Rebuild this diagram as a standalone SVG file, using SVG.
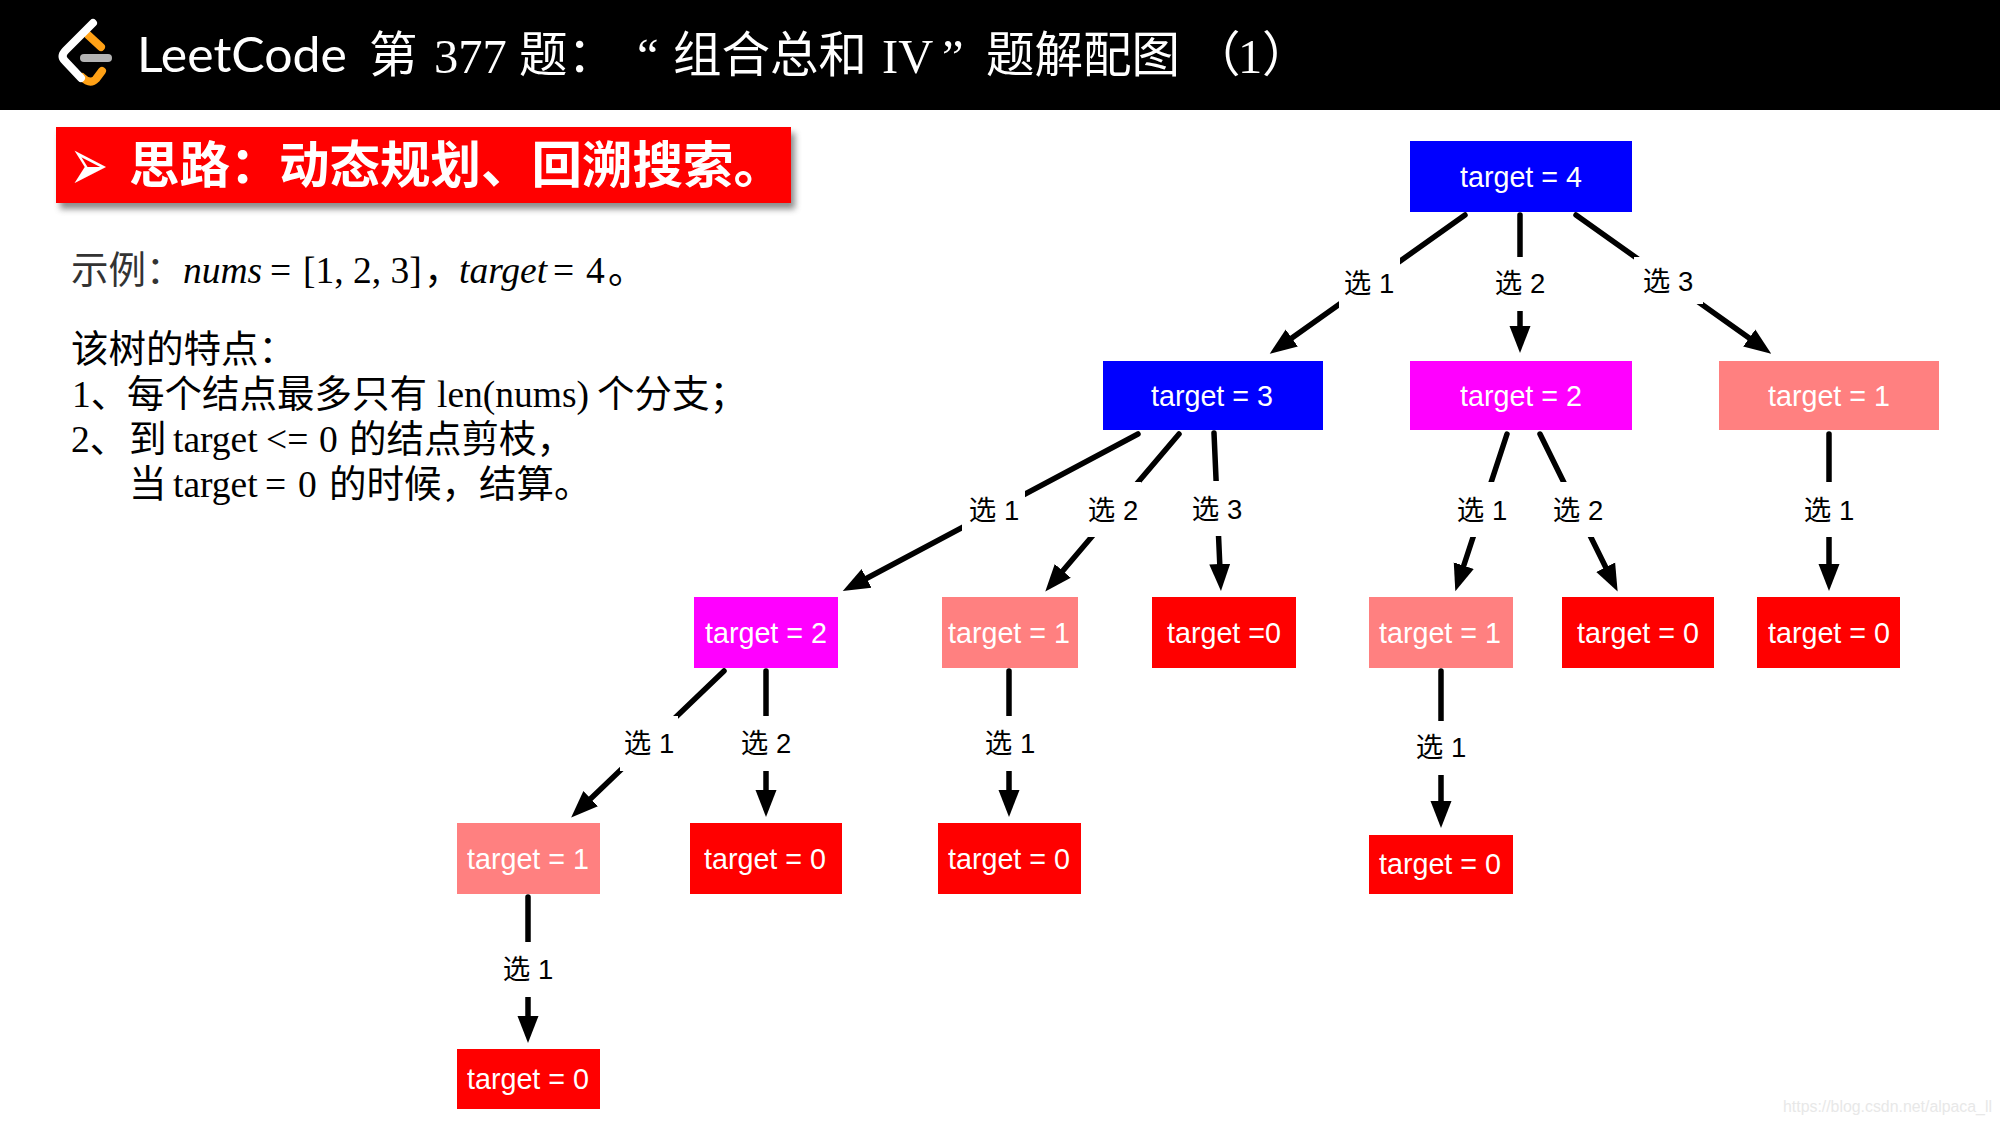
<svg xmlns="http://www.w3.org/2000/svg" width="2000" height="1125" viewBox="0 0 2000 1125">
<style>
.cjk{font-family:"Liberation Serif","Noto Sans CJK SC",serif}
.it{font-style:italic}
.body{font-size:37.5px;fill:#000}
.n rect{stroke:none}
.n text{font-family:"Liberation Sans","Noto Sans CJK SC",sans-serif;font-size:28.7px;fill:#fff;text-anchor:middle}
.blue{fill:#0000ff}.mag{fill:#ff00ff}.pink{fill:#ff8080}.red{fill:#ff0000}
.c{stroke:#000;stroke-width:5.5;stroke-linecap:round;fill:none;marker-end:url(#ah)}
.m{fill:#fff}
.l{font-family:"Liberation Sans","Noto Sans CJK SC",sans-serif;font-size:27.5px;fill:#000;text-anchor:middle}
</style>
<defs>
<marker id="ah" markerUnits="userSpaceOnUse" markerWidth="30" markerHeight="24" refX="12" refY="12" orient="auto" viewBox="0 0 30 24"><path d="M0,1.5 L27,12 L0,22.5z" fill="#000"/></marker>
<filter id="sh" x="-5%" y="-20%" width="110%" height="150%"><feGaussianBlur stdDeviation="3"/></filter>
</defs>
<rect width="2000" height="1125" fill="#fff"/>
<rect id="header" width="2000" height="110" fill="#000"/>
<g id="logo" fill="none" stroke-linecap="round">
<path d="M88,35 L101,47" stroke="#ffa116" stroke-width="8"/>
<path d="M82,77 Q90,85 96,79 L102,71" stroke="#ffa116" stroke-width="8"/>
<path d="M84,58 H108" stroke="#b3b3b3" stroke-width="8"/>
<path d="M93,23 L66,50 Q60,56 65,61 L81,78" stroke="#fff" stroke-width="8"/>
</g>
<text id="title" y="72" fill="#fff" font-size="48.5" class="cjk"><tspan x="137" y="72" font-family="Lato,sans-serif" font-weight="400" font-size="48" textLength="210" lengthAdjust="spacingAndGlyphs">LeetCode</tspan><tspan x="369">第</tspan><tspan x="434" y="73">377</tspan><tspan x="519" y="72">题：</tspan><tspan x="637">“</tspan><tspan x="673">组合总和</tspan><tspan x="882" y="73">IV</tspan><tspan x="942">”</tspan><tspan x="986" y="72">题解配图</tspan><tspan x="1192">（</tspan><tspan x="1238" y="73">1</tspan><tspan x="1262" y="72">）</tspan></text>
<g id="banner">
<rect x="60" y="133" width="735" height="76" fill="#666" opacity=".75" filter="url(#sh)"/>
<rect x="56" y="127" width="735" height="76" fill="#ff0000"/>
<text transform="translate(69.6,189.5) scale(1.1,1.75)" font-family="DejaVu Sans,sans-serif" font-size="42" fill="#fff">➢</text>
<text y="183" class="cjk" font-size="50.5" font-weight="700" fill="#fff"><tspan x="129">思路：</tspan><tspan x="279">动态规划、回溯搜索。</tspan></text>
</g>
<g id="notes" class="cjk body">
<text y="283"><tspan x="71" fill="#333">示例：</tspan><tspan x="183" class="it">nums</tspan><tspan x="270">=</tspan><tspan x="303">[1, 2, 3]</tspan><tspan x="424">，</tspan><tspan x="459" class="it">target</tspan><tspan x="553">=</tspan><tspan x="586">4</tspan><tspan x="608">。</tspan></text>
<text x="71" y="362">该树的特点：</text>
<text y="407"><tspan x="72">1、</tspan><tspan x="127">每个结点最多只有</tspan><tspan x="437">len(nums)</tspan><tspan x="597">个分支；</tspan></text>
<text y="452"><tspan x="71">2、</tspan><tspan x="129">到</tspan><tspan x="173">target</tspan><tspan x="266">&lt;=</tspan><tspan x="319">0</tspan><tspan x="349">的结点剪枝，</tspan></text>
<text y="497"><tspan x="129">当</tspan><tspan x="173">target</tspan><tspan x="265">=</tspan><tspan x="298">0</tspan><tspan x="329">的时候，结算。</tspan></text>
</g>
<g id="connectors">
<line class="c" x1="1465" y1="215" x2="1282" y2="345"/>
<line class="c" x1="1520" y1="215" x2="1520" y2="338"/>
<line class="c" x1="1576" y1="215" x2="1759" y2="345"/>
<line class="c" x1="1138" y1="434" x2="856" y2="584"/>
<line class="c" x1="1179" y1="434" x2="1055" y2="580"/>
<line class="c" x1="1214" y1="433" x2="1220.3" y2="576"/>
<line class="c" x1="1507" y1="434" x2="1460" y2="577"/>
<line class="c" x1="1540" y1="434" x2="1611" y2="578"/>
<line class="c" x1="1829" y1="434" x2="1829" y2="576"/>
<line class="c" x1="724" y1="671" x2="582" y2="807"/>
<line class="c" x1="766" y1="671" x2="766" y2="802"/>
<line class="c" x1="1009" y1="671" x2="1009" y2="802"/>
<line class="c" x1="528" y1="897" x2="528" y2="1028"/>
<line class="c" x1="1441" y1="671" x2="1441" y2="813"/>
<rect class="m" x="1339" y="257" width="61" height="54"/><text class="l" x="1369" y="293">选 1</text>
<rect class="m" x="1492" y="257" width="56" height="54"/><text class="l" x="1520" y="293">选 2</text>
<rect class="m" x="1634" y="257" width="69" height="47"/><text class="l" x="1668" y="291">选 3</text>
<rect class="m" x="962" y="482" width="63" height="55"/><text class="l" x="994" y="520">选 1</text>
<rect class="m" x="1085" y="482" width="56" height="55"/><text class="l" x="1113" y="520">选 2</text>
<rect class="m" x="1190" y="481" width="55" height="55"/><text class="l" x="1217" y="519">选 3</text>
<rect class="m" x="1455" y="482" width="55" height="55"/><text class="l" x="1482" y="520">选 1</text>
<rect class="m" x="1550" y="482" width="56" height="55"/><text class="l" x="1578" y="520">选 2</text>
<rect class="m" x="1800" y="482" width="58" height="55"/><text class="l" x="1829" y="520">选 1</text>
<rect class="m" x="620" y="716" width="58" height="55"/><text class="l" x="649" y="753">选 1</text>
<rect class="m" x="738" y="716" width="56" height="55"/><text class="l" x="766" y="753">选 2</text>
<rect class="m" x="981" y="716" width="58" height="55"/><text class="l" x="1010" y="753">选 1</text>
<rect class="m" x="500" y="942" width="56" height="55"/><text class="l" x="528" y="979">选 1</text>
<rect class="m" x="1413" y="721" width="56" height="54"/><text class="l" x="1441" y="757">选 1</text>
</g>
<g id="n4" class="n"><rect class="blue" x="1410" y="141" width="222" height="71"/><text x="1521" y="187">target = 4</text></g>
<g id="n3" class="n"><rect class="blue" x="1103" y="361" width="220" height="69"/><text x="1212" y="406">target = 3</text></g>
<g id="n2" class="n"><rect class="mag" x="1410" y="361" width="222" height="69"/><text x="1521" y="406">target = 2</text></g>
<g id="n1" class="n"><rect class="pink" x="1719" y="361" width="220" height="69"/><text x="1829" y="406">target = 1</text></g>
<g id="n3-2" class="n"><rect class="mag" x="694" y="597" width="144" height="71"/><text x="766" y="643">target = 2</text></g>
<g id="n3-1" class="n"><rect class="pink" x="942" y="597" width="136" height="71"/><text x="1009" y="643">target = 1</text></g>
<g id="n3-0" class="n"><rect class="red" x="1152" y="597" width="144" height="71"/><text x="1224" y="643">target =0</text></g>
<g id="n2-1" class="n"><rect class="pink" x="1369" y="597" width="144" height="71"/><text x="1440" y="643">target = 1</text></g>
<g id="n2-0" class="n"><rect class="red" x="1562" y="597" width="152" height="71"/><text x="1638" y="643">target = 0</text></g>
<g id="n1-0" class="n"><rect class="red" x="1757" y="597" width="143" height="71"/><text x="1829" y="643">target = 0</text></g>
<g id="n32-1" class="n"><rect class="pink" x="457" y="823" width="143" height="71"/><text x="528" y="869">target = 1</text></g>
<g id="n32-0" class="n"><rect class="red" x="690" y="823" width="152" height="71"/><text x="765" y="869">target = 0</text></g>
<g id="n31-0" class="n"><rect class="red" x="938" y="823" width="143" height="71"/><text x="1009" y="869">target = 0</text></g>
<g id="n21-0" class="n"><rect class="red" x="1369" y="835" width="144" height="59"/><text x="1440" y="874">target = 0</text></g>
<g id="n321-0" class="n"><rect class="red" x="457" y="1049" width="143" height="60"/><text x="528" y="1089">target = 0</text></g>
<text id="watermark" x="1783" y="1112" font-family="Liberation Sans,sans-serif" font-size="16" textLength="209" lengthAdjust="spacingAndGlyphs" fill="#e8e8e8">https://blog.csdn.net/alpaca_ll</text>
</svg>
